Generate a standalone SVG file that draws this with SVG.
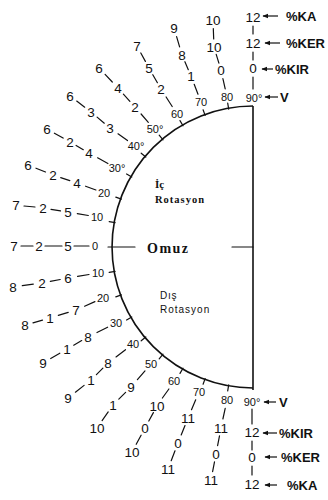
<svg xmlns="http://www.w3.org/2000/svg" width="328" height="500" viewBox="0 0 328 500">
<defs>
<style>
.n{font-family:"Liberation Sans",Arial,sans-serif;font-size:13.5px;fill:#111;text-anchor:middle}
.a{font-family:"Liberation Sans",Arial,sans-serif;font-size:11px;fill:#111;text-anchor:middle}
.k{font-family:"Liberation Sans",Arial,sans-serif;font-size:13px;font-weight:bold;fill:#111}
.c{stroke:#111;stroke-width:1.2;fill:none;stroke-linecap:round}
.m{stroke:#111;stroke-width:1.6;fill:none}
.ar{stroke:#111;stroke-width:1.2;fill:none;marker-end:url(#ah)}
</style>
<marker id="ah" viewBox="0 0 10 10" refX="9" refY="5" markerWidth="5" markerHeight="5" orient="auto"><path d="M0,1 L10,5 L0,9 Z" fill="#111"/></marker>
</defs>
<rect width="328" height="500" fill="#fff"/>
<g id="connectors">
<path class="m" d="M253,106 A141,141 0 0 0 253,388"/>
<line class="m" x1="253" y1="106" x2="253" y2="390"/>
<line class="c" x1="108" y1="247" x2="135" y2="247"/>
<line class="c" x1="232" y1="247" x2="253" y2="247"/>
<g id="ticks">
<line class="c" x1="115.1" y1="222.7" x2="109.2" y2="221.7"/>
<line class="c" x1="121.4" y1="199.1" x2="115.8" y2="197.1"/>
<line class="c" x1="131.8" y1="177" x2="126.6" y2="174"/>
<line class="c" x1="145.8" y1="157" x2="141.2" y2="153.2"/>
<line class="c" x1="163" y1="139.8" x2="159.2" y2="135.2"/>
<line class="c" x1="183" y1="125.8" x2="180" y2="120.6"/>
<line class="c" x1="205.1" y1="115.4" x2="203.1" y2="109.8"/>
<line class="c" x1="228.7" y1="109.1" x2="227.7" y2="103.2"/>
<line class="c" x1="115.1" y1="271.3" x2="109.2" y2="272.3"/>
<line class="c" x1="121.4" y1="294.9" x2="115.8" y2="296.9"/>
<line class="c" x1="131.8" y1="317" x2="126.6" y2="320"/>
<line class="c" x1="145.8" y1="337" x2="141.2" y2="340.8"/>
<line class="c" x1="163" y1="354.2" x2="159.2" y2="358.8"/>
<line class="c" x1="183" y1="368.2" x2="180" y2="373.4"/>
<line class="c" x1="205.1" y1="378.6" x2="203.1" y2="384.2"/>
<line class="c" x1="228.7" y1="384.9" x2="227.7" y2="390.8"/>
</g>
<g id="chain-links">
<line class="c" x1="21" y1="246" x2="33" y2="246"/>
<line class="c" x1="45" y1="246" x2="62" y2="246"/>
<line class="c" x1="74" y1="246" x2="89" y2="246"/>
<line class="c" x1="24" y1="206" x2="35" y2="207"/>
<line class="c" x1="51" y1="209.3" x2="60.5" y2="210.8"/>
<line class="c" x1="77.3" y1="213.6" x2="88.3" y2="215.5"/>
<line class="c" x1="36" y1="168.2" x2="45.5" y2="172"/>
<line class="c" x1="60.7" y1="177.6" x2="69.8" y2="180.6"/>
<line class="c" x1="85.6" y1="186.2" x2="95.9" y2="190"/>
<line class="c" x1="54.4" y1="133.2" x2="63.1" y2="138.1"/>
<line class="c" x1="76.1" y1="145.5" x2="83.3" y2="149.7"/>
<line class="c" x1="97.6" y1="157.8" x2="107.9" y2="163.5"/>
<line class="c" x1="76.7" y1="101.1" x2="84.7" y2="107.2"/>
<line class="c" x1="97.1" y1="117.1" x2="104.3" y2="123.2"/>
<line class="c" x1="118" y1="133.8" x2="127.5" y2="140.6"/>
<line class="c" x1="105.1" y1="74.4" x2="112.3" y2="82"/>
<line class="c" x1="123.4" y1="94.1" x2="129.9" y2="101.3"/>
<line class="c" x1="141.1" y1="114" x2="148.3" y2="122.4"/>
<line class="c" x1="140.8" y1="53" x2="145.4" y2="61.4"/>
<line class="c" x1="152.8" y1="74.7" x2="157.4" y2="82.7"/>
<line class="c" x1="166.1" y1="97" x2="172.2" y2="106.5"/>
<line class="c" x1="176.6" y1="36.6" x2="179.6" y2="46.9"/>
<line class="c" x1="184.9" y1="61.7" x2="188.3" y2="69.7"/>
<line class="c" x1="194.2" y1="84.3" x2="198" y2="94.2"/>
<line class="c" x1="213.3" y1="28.6" x2="213.7" y2="38.9"/>
<line class="c" x1="216.2" y1="54.4" x2="218.9" y2="63.1"/>
<line class="c" x1="222.9" y1="78.6" x2="225.2" y2="88.9"/>
<line class="c" x1="253" y1="26" x2="253" y2="34"/>
<line class="c" x1="253" y1="52" x2="253" y2="60"/>
<line class="c" x1="253" y1="77" x2="253" y2="89"/>
<line class="c" x1="22.3" y1="285.7" x2="33.3" y2="284.2"/>
<line class="c" x1="50.3" y1="281.4" x2="60.2" y2="279.5"/>
<line class="c" x1="77.6" y1="276.4" x2="89" y2="274.5"/>
<line class="c" x1="33" y1="322.8" x2="42.5" y2="320.1"/>
<line class="c" x1="58.3" y1="315.4" x2="68.2" y2="312.4"/>
<line class="c" x1="84.6" y1="306.2" x2="94.9" y2="301.6"/>
<line class="c" x1="50.7" y1="358.5" x2="59.8" y2="353.2"/>
<line class="c" x1="73.7" y1="345.2" x2="81.7" y2="340.6"/>
<line class="c" x1="97" y1="332.5" x2="107.6" y2="327.2"/>
<line class="c" x1="75.4" y1="392.2" x2="84.1" y2="385.4"/>
<line class="c" x1="96.4" y1="374.6" x2="102.9" y2="368.1"/>
<line class="c" x1="116" y1="356.9" x2="125.5" y2="349.7"/>
<line class="c" x1="102.1" y1="420.6" x2="108.2" y2="411.9"/>
<line class="c" x1="118.8" y1="399.2" x2="125.6" y2="392.4"/>
<line class="c" x1="137.4" y1="379.6" x2="145" y2="370.9"/>
<line class="c" x1="136.2" y1="444.3" x2="141.1" y2="435.2"/>
<line class="c" x1="148.8" y1="421" x2="153.4" y2="412.6"/>
<line class="c" x1="162.4" y1="398" x2="168.9" y2="389"/>
<line class="c" x1="171.2" y1="460.7" x2="175" y2="450.8"/>
<line class="c" x1="181.2" y1="435" x2="185" y2="425.5"/>
<line class="c" x1="191.5" y1="409.7" x2="195.7" y2="399.8"/>
<line class="c" x1="212.6" y1="471.7" x2="214.5" y2="461.8"/>
<line class="c" x1="217.6" y1="445.7" x2="219.5" y2="435.8"/>
<line class="c" x1="222.9" y1="419" x2="225.2" y2="408.4"/>
<line class="c" x1="252" y1="409" x2="252" y2="424"/>
<line class="c" x1="252" y1="441" x2="252" y2="450"/>
<line class="c" x1="252" y1="466" x2="252" y2="475"/>
</g>
<g id="pointers">
<line class="ar" x1="278" y1="16" x2="263" y2="16"/>
<line class="ar" x1="280" y1="43" x2="265" y2="43"/>
<line class="ar" x1="273" y1="69" x2="262" y2="69"/>
<line class="ar" x1="278" y1="97" x2="265" y2="97"/>
<line class="ar" x1="276" y1="402" x2="264" y2="402"/>
<line class="ar" x1="277" y1="433" x2="263" y2="433"/>
<line class="ar" x1="277" y1="457" x2="265" y2="457"/>
<line class="ar" x1="277" y1="485" x2="265" y2="485"/>
</g>
</g>
<g id="center-labels">
<text x="155" y="188" style="font-family:'Liberation Serif',serif;font-size:11px;font-weight:bold;fill:#111">İç</text>
<text x="155" y="203" style="font-family:'Liberation Serif',serif;font-size:10.5px;font-weight:bold;letter-spacing:1px;fill:#111">Rotasyon</text>
<text x="147" y="253" style="font-family:'Liberation Serif',serif;font-size:14px;font-weight:bold;letter-spacing:1.5px;fill:#111">Omuz</text>
<text x="160" y="299" style="font-family:'Liberation Sans',sans-serif;font-size:10px;letter-spacing:0.8px;fill:#111">Dış</text>
<text x="160" y="313" style="font-family:'Liberation Sans',sans-serif;font-size:10px;letter-spacing:1px;fill:#111">Rotasyon</text>
</g>
<g id="ic-0"><text class="n" x="14" y="250.8">7</text><text class="n" x="39" y="250.8">2</text><text class="n" x="68" y="250.8">5</text><text class="a" x="95" y="249.9">0</text></g>
<g id="ic-10"><text class="n" x="16" y="209.8">7</text><text class="n" x="43" y="212.8">2</text><text class="n" x="68" y="216.8">5</text><text class="a" x="97" y="220.9">10</text></g>
<g id="ic-20"><text class="n" x="28" y="169.8">6</text><text class="n" x="53" y="179.8">2</text><text class="n" x="77" y="187.8">4</text><text class="a" x="104" y="196.9">20</text></g>
<g id="ic-30"><text class="n" x="47" y="133.8">6</text><text class="n" x="70" y="146.8">2</text><text class="n" x="89" y="157.8">4</text><text class="a" x="117" y="171.9">30°</text></g>
<g id="ic-40"><text class="n" x="70" y="100.8">6</text><text class="n" x="91" y="116.8">3</text><text class="n" x="110" y="132.8">3</text><text class="a" x="136" y="149.9">40°</text></g>
<g id="ic-50"><text class="n" x="99" y="72.8">6</text><text class="n" x="118" y="92.8">4</text><text class="n" x="135" y="111.8">2</text><text class="a" x="155" y="132.9">50°</text></g>
<g id="ic-60"><text class="n" x="137" y="50.8">7</text><text class="n" x="149" y="72.8">5</text><text class="n" x="161" y="93.8">2</text><text class="a" x="177" y="117.9">60</text></g>
<g id="ic-70"><text class="n" x="174" y="32.8">9</text><text class="n" x="182" y="59.8">8</text><text class="n" x="191" y="80.8">1</text><text class="a" x="201" y="105.9">70</text></g>
<g id="ic-80"><text class="n" x="213" y="24.8">10</text><text class="n" x="214" y="51.8">10</text><text class="n" x="221" y="74.8">0</text><text class="a" x="227" y="100.9">80</text></g>
<g id="ic-90"><text class="n" x="253" y="21.8">12</text><text class="n" x="253" y="47.8">12</text><text class="n" x="253" y="72.8">0</text><text class="a" x="254" y="101.9">90°</text>
<text class="k" x="286" y="20.5">%KA</text><text class="k" x="286" y="47.5">%KER</text><text class="k" x="275" y="73.5">%KIR</text><text class="k" x="280" y="102">V</text></g>
<g id="dis-10"><text class="n" x="13" y="291.8">8</text><text class="n" x="42" y="287.8">2</text><text class="n" x="68" y="282.8">6</text><text class="a" x="98" y="276.9">10</text></g>
<g id="dis-20"><text class="n" x="25" y="329.8">8</text><text class="n" x="50" y="322.8">1</text><text class="n" x="76" y="314.8">7</text><text class="a" x="103" y="301.9">20</text></g>
<g id="dis-30"><text class="n" x="43" y="367.8">9</text><text class="n" x="67" y="353.8">1</text><text class="n" x="88" y="341.8">8</text><text class="a" x="116" y="326.9">30</text></g>
<g id="dis-40"><text class="n" x="68" y="402.8">9</text><text class="n" x="91" y="384.8">1</text><text class="n" x="108" y="367.8">8</text><text class="a" x="133" y="347.9">40</text></g>
<g id="dis-50"><text class="n" x="97" y="432.8">10</text><text class="n" x="113" y="409.8">1</text><text class="n" x="131" y="391.8">9</text><text class="a" x="151" y="367.9">50</text></g>
<g id="dis-60"><text class="n" x="132" y="456.8">10</text><text class="n" x="145" y="432.8">0</text><text class="n" x="157" y="410.8">10</text><text class="a" x="174" y="384.9">60</text></g>
<g id="dis-70"><text class="n" x="168" y="473.8">11</text><text class="n" x="178" y="447.8">0</text><text class="n" x="188" y="422.8">11</text><text class="a" x="199" y="395.9">70</text></g>
<g id="dis-80"><text class="n" x="211" y="484.8">11</text><text class="n" x="216" y="458.8">0</text><text class="n" x="221" y="432.8">11</text><text class="a" x="227" y="403.9">80</text></g>
<g id="dis-90"><text class="a" x="252" y="405.9">90°</text><text class="n" x="252" y="436.8">12</text><text class="n" x="252" y="461.8">0</text><text class="n" x="252" y="488.8">12</text>
<text class="k" x="279" y="407">V</text><text class="k" x="279" y="438">%KIR</text><text class="k" x="281" y="462">%KER</text><text class="k" x="287" y="490">%KA</text></g>
</svg>
